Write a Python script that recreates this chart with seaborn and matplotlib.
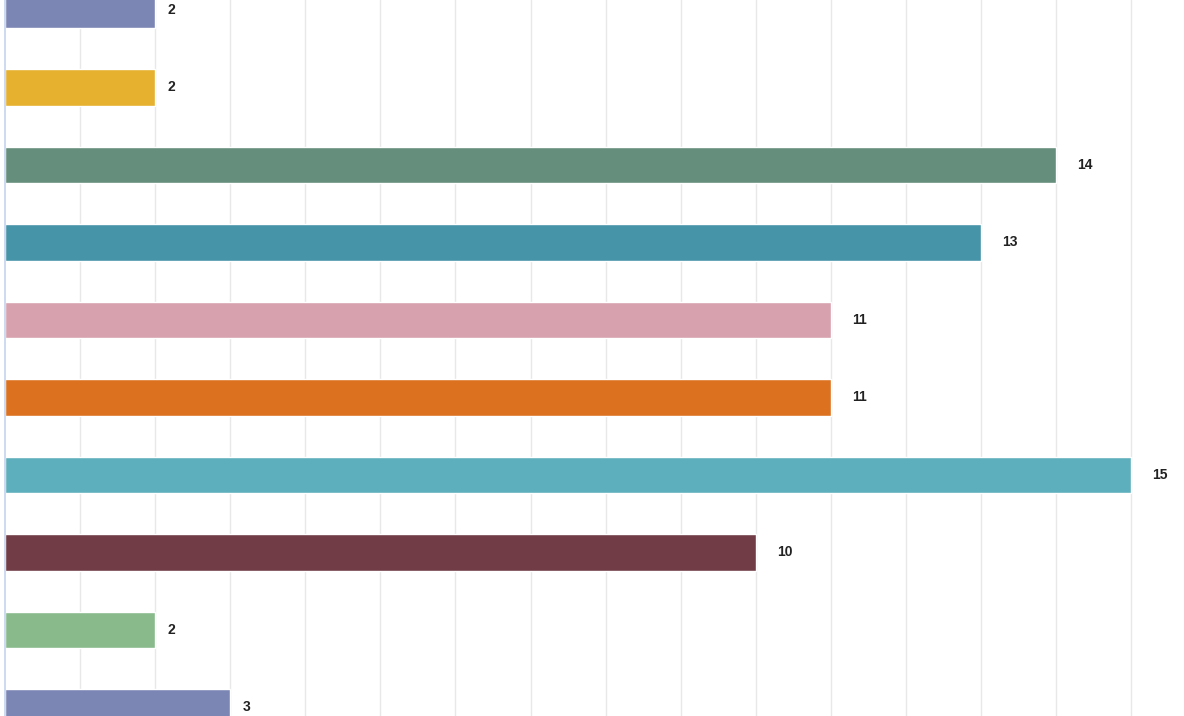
import matplotlib
matplotlib.use("Agg")
import matplotlib.pyplot as plt
import pandas as pd
import seaborn as sns

# ~~~~~~~~~~~~~~~~~~~~~~~~~~~~~~~~~~~~~~~~~~~~~~~~~~~~~~~~~~~~~~~~~~~~~~~~
# DATA (category names are not shown in the chart)
# ~~~~~~~~~~~~~~~~~~~~~~~~~~~~~~~~~~~~~~~~~~~~~~~~~~~~~~~~~~~~~~~~~~~~~~~~
categories = ["c1", "c2", "c3", "c4", "c5", "c6", "c7", "c8", "c9", "c10"]
values = [2, 2, 14, 13, 11, 11, 15, 10, 2, 3]
bar_colors = ["#7c86b4", "#e6b12e", "#658f7c", "#4694a8", "#d7a1ad",
              "#dc7220", "#5eafbd", "#713c46", "#88ba8c", "#7c86b4"]

df = pd.DataFrame({"category": categories, "value": values})

sns.set_theme(style="white")
plt.rcParams["font.family"] = ["Liberation Sans", "DejaVu Sans"]

fig = plt.figure(figsize=(11.84, 7.16), dpi=100)
ax = fig.add_axes([0, 0, 1, 1])

sns.barplot(data=df, x="value", y="category", hue="category",
            palette=bar_colors, orient="h", width=0.47, saturation=1,
            legend=False, ax=ax, zorder=2)

# vertical grid at each unit
for v in range(1, 16):
    ax.axvline(v, color="#e8e8e8", lw=1.0, zorder=0)

ax.set_xlim(-0.067, 15.705)
ax.set_ylim(9.11, -0.129)

for s in ["top", "right", "bottom"]:
    ax.spines[s].set_visible(False)
ax.spines["left"].set_position(("data", 0))
ax.spines["left"].set_color("#c5d3ec")
ax.spines["left"].set_linewidth(1.2)
ax.set_xticks([])
ax.set_yticks([])
ax.set_xlabel("")
ax.set_ylabel("")

# value labels
for i, v in enumerate(values):
    s = str(v)
    off = 3 + 9 * len(s)
    ax.annotate(s, (v, i), xytext=(off * 0.72, 0), textcoords="offset points",
                ha="left", va="center", fontsize=10, fontweight="bold",
                color="#222222")

fig.savefig("out.png", dpi=100)
